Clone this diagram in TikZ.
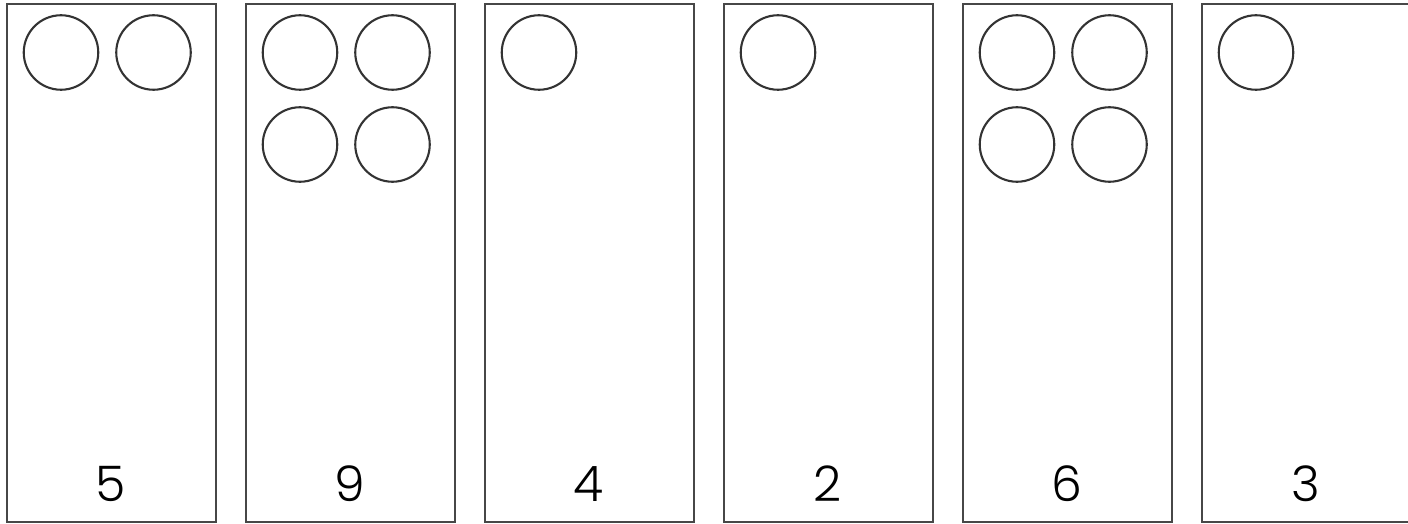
\documentclass[tikz,border=0pt]{standalone}
\usepackage{fontspec}
\setmainfont{Poppins Light}
\begin{document}
\begin{tikzpicture}[x=1pt,y=-1pt,
  card/.style={draw=black!72,line width=1.5pt,minimum width=209pt,minimum height=517.5pt,anchor=north west,inner sep=0pt},
  dot/.style={circle,draw=black!80,line width=2.1pt,minimum size=74.5pt,inner sep=0pt},
  num/.style={anchor=base,font=\fontsize{49}{49}\selectfont,text=black,inner sep=0pt}]
\useasboundingbox (0,0) rectangle (1408,524);
\clip (0,0) rectangle (1408,524);
\foreach \i/\n in {1/5,2/9,3/4,4/2,5/6,6/3}{
  \node[card] (c\i) at ({6+(\i-1)*239},3.5) {};
  \node[num] (n\i) at ({110.5+(\i-1)*239},501) {\n};
}
\node[dot] (d11) at (61,52.5) {};
\node[dot] (d12) at (153.5,52.5) {};
\node[dot] (d21) at (300,52.5) {};
\node[dot] (d22) at (392.5,52.5) {};
\node[dot] (d23) at (300,144.5) {};
\node[dot] (d24) at (392.5,144.5) {};
\node[dot] (d31) at (539,52.5) {};
\node[dot] (d41) at (778,52.5) {};
\node[dot] (d51) at (1017,52.5) {};
\node[dot] (d52) at (1109.5,52.5) {};
\node[dot] (d53) at (1017,144.5) {};
\node[dot] (d54) at (1109.5,144.5) {};
\node[dot] (d61) at (1256,52.5) {};
\end{tikzpicture}
\end{document}
